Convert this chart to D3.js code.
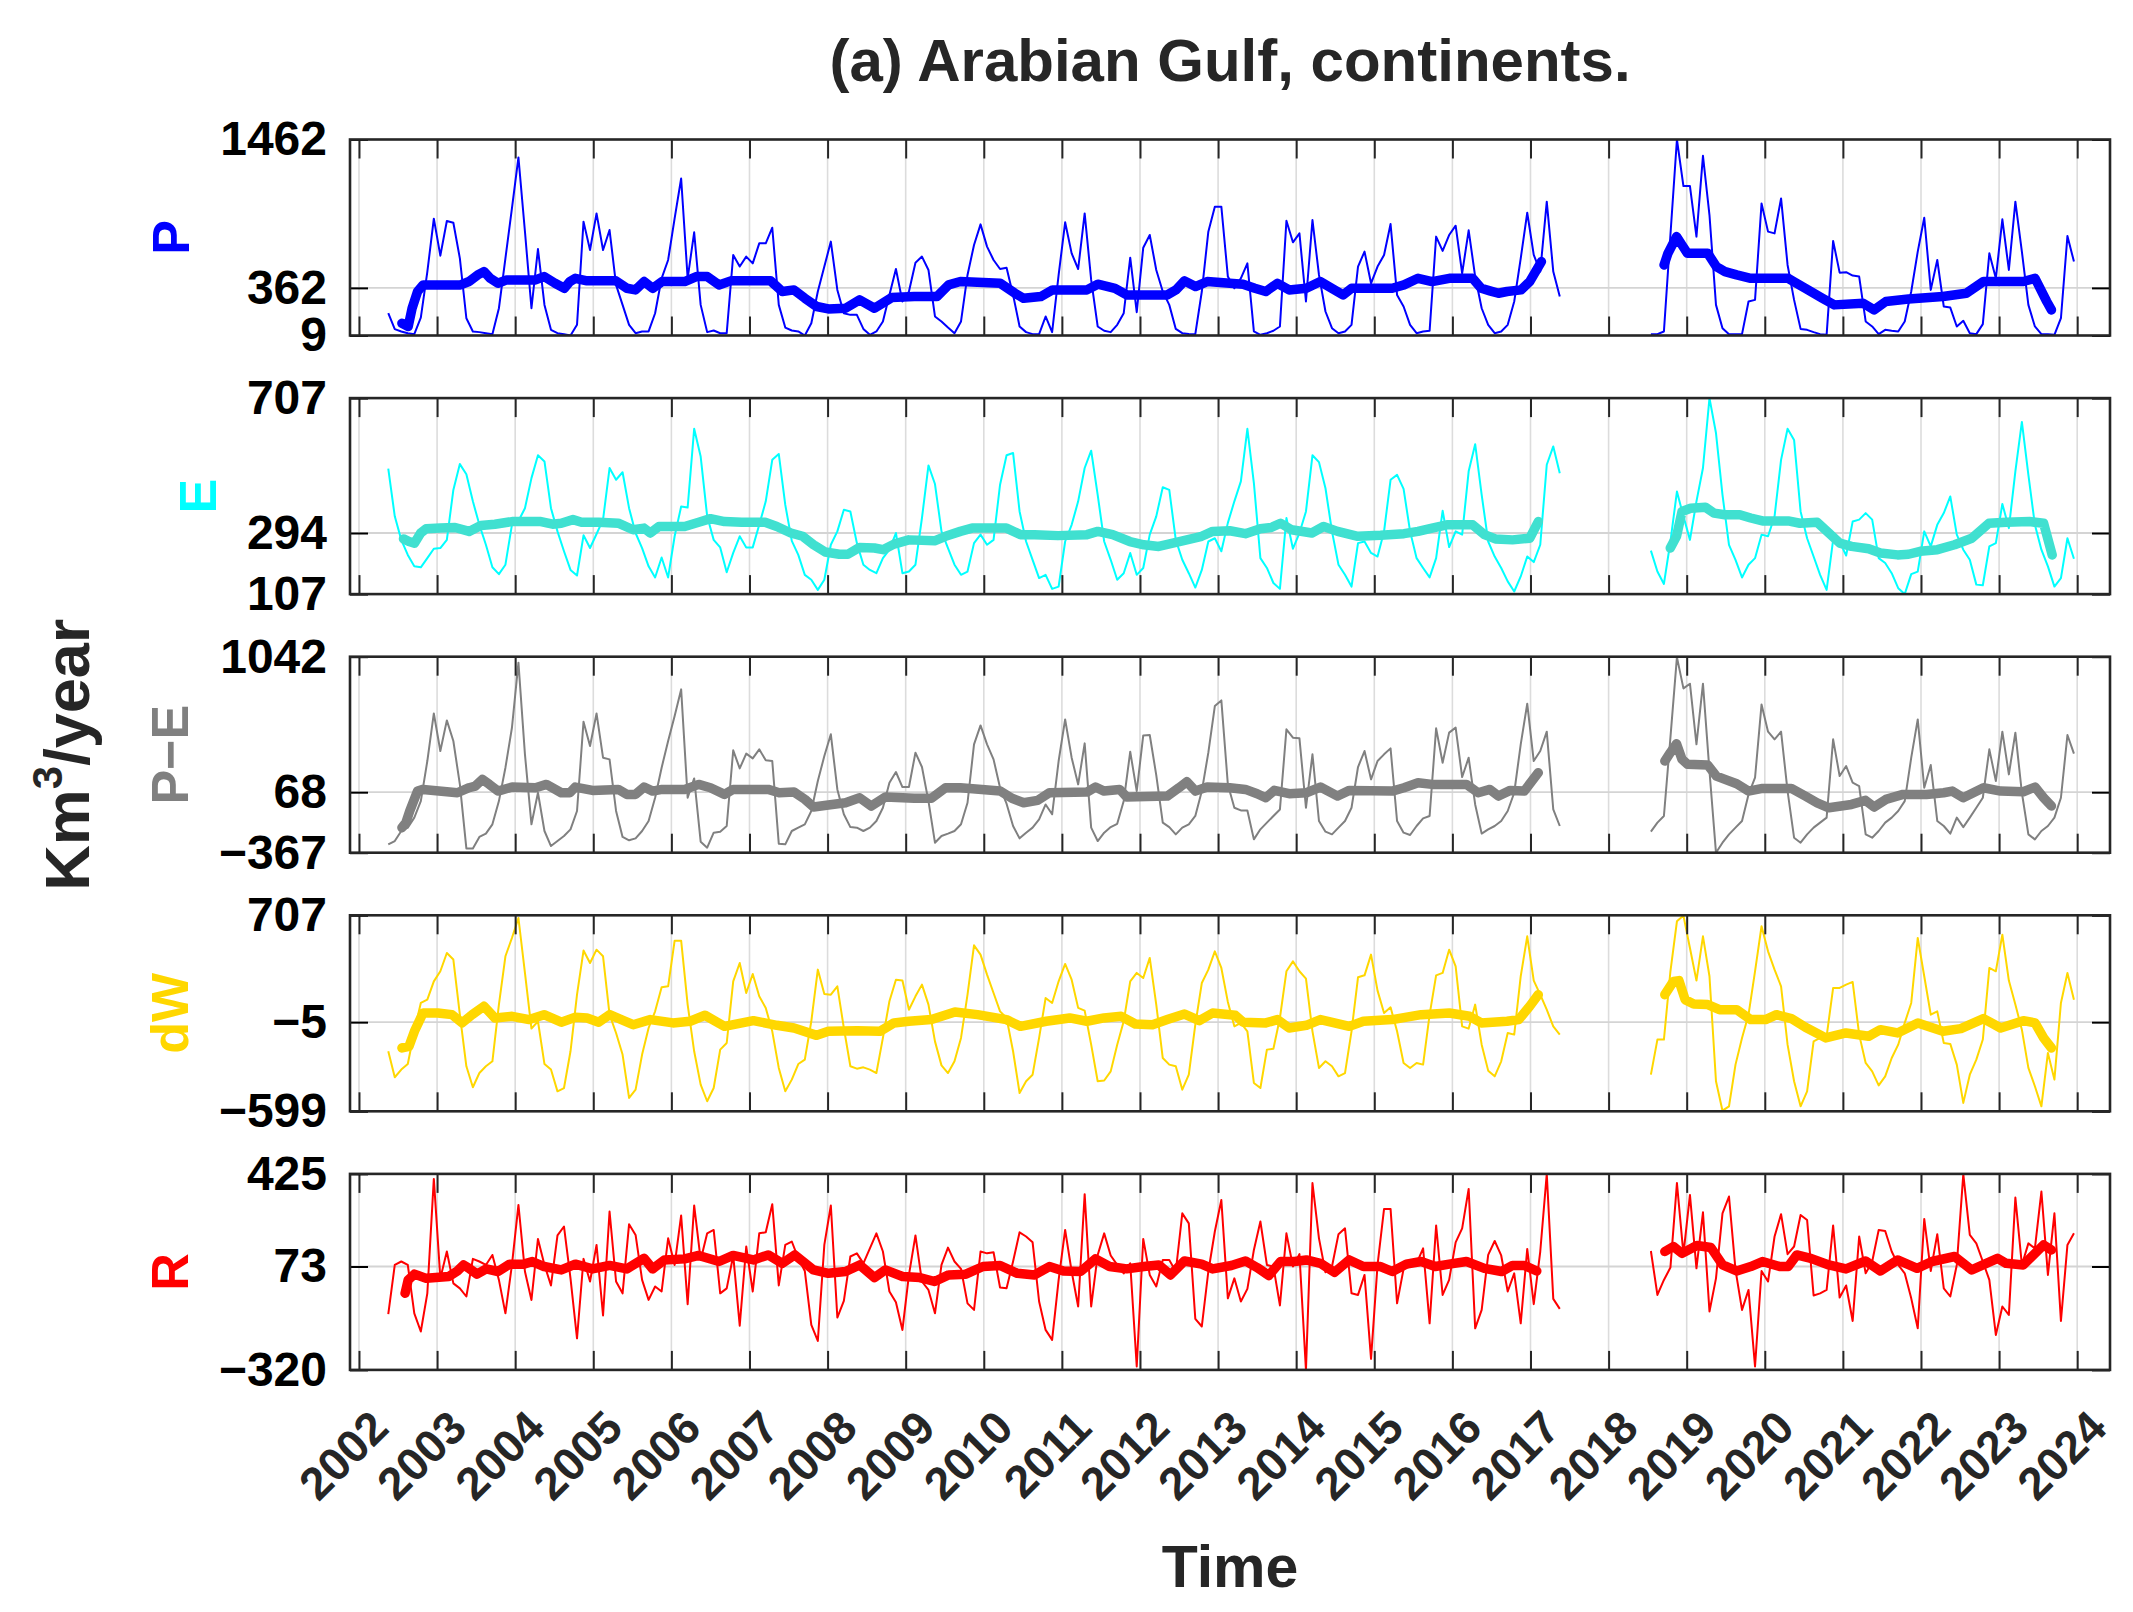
<!DOCTYPE html>
<html><head><meta charset="utf-8">
<script src="https://cdn.jsdelivr.net/npm/d3@7"></script>
<style>body{margin:0;background:#fff}svg{display:block}</style>
</head><body>
<svg id="c" width="2133" height="1612"></svg>
<script>
// ---------- data ----------
const years = [2002,2003,2004,2005,2006,2007,2008,2009,2010,2011,2012,2013,2014,2015,2016,2017,2018,2019,2020,2021,2022,2023,2024];
// monthly samples: GRACE May 2002 - May 2017, GRACE-FO Jul 2018 - Dec 2023
const seg1Months = d3.timeMonth.range(new Date(2002,4,1), new Date(2017,5,1));
const seg2Months = d3.timeMonth.range(new Date(2018,6,1), new Date(2024,0,1));

const pTicks  = [9, 362, 1462];
const eTicks  = [107, 294, 707];
const peTicks = [-367, 68, 1042];
const dwTicks = [-599, -5, 707];
const rTicks  = [-320, 73, 425];

const pSeg1 = [174,56,39,26,19,142,480,875,601,858,
845,581,137,39,34,26,19,211,581,951,
1329,780,211,650,236,51,26,19,9,88,
853,643,914,643,791,384,236,88,26,39,
39,174,433,569,877,1173,433,774,236,34,
46,26,26,606,520,594,544,692,692,808,
236,68,46,39,9,100,335,520,705,347,
174,162,162,58,14,39,113,310,502,261,
335,549,594,495,150,113,68,26,113,458,
680,833,668,569,502,512,310,76,34,19,
19,150,34,458,848,618,502,914,421,76,
44,34,88,174,586,182,660,754,495,335,
236,58,26,21,19,335,779,964,964,446,
359,433,544,39,14,26,44,76,860,700,
766,261,865,458,187,63,26,39,88,520,
631,396,520,606,835,310,224,88,26,39,
44,742,636,754,823,470,789,446,211,88,
26,39,88,261,581,919,606,483,1001,483,298];
const pSeg2 = [19,19,39,754,1462,1117,1117,742,1341,902,
236,63,19,19,19,261,273,988,779,766,
1025,532,273,58,51,34,19,14,710,475,
478,453,446,113,76,19,51,44,39,113,
335,631,882,347,569,224,216,76,118,26,
19,93,618,433,870,495,1001,631,236,76,
19,19,14,137,747,557];

const eSeg1 = [491,345,273,227,192,189,217,246,248,273,
426,505,474,391,319,258,189,168,197,319,
331,370,462,532,513,370,299,238,181,164,
287,248,291,335,493,457,480,370,294,248,
192,158,219,158,284,375,372,613,528,345,
273,250,174,233,284,250,250,319,391,518,
536,380,270,227,166,151,120,151,258,299,
365,360,263,197,181,171,217,243,294,171,
176,197,340,501,444,299,248,197,166,176,
263,289,258,273,442,532,539,360,268,212,
156,166,123,130,268,319,391,493,546,411,
268,212,151,171,233,166,187,289,345,434,
426,273,212,171,127,181,268,278,238,325,
391,452,613,447,217,187,141,123,340,246,
294,360,532,511,431,299,197,166,130,263,
268,233,222,299,457,472,429,299,217,187,
158,217,362,251,299,289,483,566,411,268,
222,187,146,115,161,222,205,258,503,559,477];
const eSeg2 = [240,176,138,268,421,345,273,391,493,707,
600,411,258,212,158,197,217,289,284,345,
518,613,579,360,278,222,166,120,273,268,
225,329,335,355,335,217,202,171,125,107,
168,176,299,253,319,355,406,289,243,212,
136,134,253,263,383,309,483,634,472,319,
243,192,130,156,278,215];

const peSeg1 = [-307,-283,-211,-187,-115,4,292,634,364,584,
436,124,-336,-336,-254,-230,-163,4,244,531,
999,340,-163,64,-211,-319,-283,-247,-199,-67,
575,400,634,316,304,-67,-254,-278,-264,-211,
-139,28,244,436,615,807,28,167,-288,-331,
-223,-216,-175,369,239,345,311,376,297,292,
-302,-307,-211,-187,-163,-67,148,328,484,88,
-91,-183,-187,-211,-187,-139,-44,136,213,105,
105,352,249,4,-295,-247,-230,-211,-163,-8,
412,548,412,304,100,-15,-175,-264,-223,-187,
-127,-20,-91,292,591,316,124,419,-187,-283,
-223,-183,-159,4,359,76,476,479,191,-151,
-183,-235,-187,-163,-103,76,352,687,728,124,
-44,-63,-63,-271,-199,-151,-103,-56,520,460,
455,-44,340,-139,-216,-235,-187,-139,-44,249,
364,160,292,340,383,-139,-223,-240,-175,-120,
-103,527,280,496,532,177,316,-20,-230,-199,
-175,-139,-67,64,412,704,292,364,503,-56,-175];
const peSeg2 = [-216,-151,-103,460,1039,814,848,412,848,220,
-367,-295,-235,-187,-139,52,172,699,503,448,
503,76,-259,-295,-235,-187,-151,-115,448,184,
256,136,112,-235,-259,-211,-151,-115,-67,4,
316,591,100,263,-139,-175,-230,-115,-183,-115,
-44,28,376,148,503,196,496,64,-235,-271,
-211,-175,-115,28,479,345];

const dwSeg1 = [-199,-372,-321,-284,-66,123,145,267,334,456,
412,45,-299,-439,-344,-299,-266,112,434,556,
689,323,-48,1,-284,-321,-466,-444,-199,178,
472,389,478,434,45,-77,-221,-510,-455,-221,
-44,67,227,234,538,538,112,-199,-421,-532,
-444,-188,-144,267,389,189,316,167,90,-66,
-310,-466,-388,-284,-255,1,345,183,178,234,
-44,-299,-315,-306,-321,-344,-110,134,278,272,
78,167,245,112,-133,-293,-344,-266,-110,178,
507,445,312,189,67,23,-199,-477,-399,-355,
-110,156,123,267,383,278,90,72,-155,-399,
-394,-333,-155,1,267,323,289,423,112,-244,
-288,-299,-455,-355,-22,256,345,467,356,130,
-33,-10,-66,-410,-444,-188,-182,23,334,400,
334,285,-66,-310,-266,-299,-366,-344,-66,294,
307,445,205,56,94,-66,-277,-310,-277,-288,
45,307,323,478,367,-33,-48,112,-155,-328,
-366,-266,-77,-88,301,567,272,178,78,-33,-88];
const dwSeg2 = [-355,-121,-121,334,667,705,489,272,567,301,
-399,-595,-566,-288,-110,45,334,634,467,345,
234,-155,-399,-566,-466,-133,-110,-99,223,223,
245,263,-88,-277,-333,-426,-366,-244,-155,-10,
123,556,301,45,67,-144,-150,-288,-543,-355,
-255,-121,356,334,578,272,112,-55,-310,-432,
-566,-210,-388,123,323,145];

const rSeg1 = [-108,79,92,79,-105,-174,-29,406,28,130,
9,-10,-41,102,92,79,117,22,-105,79,
307,54,-54,178,79,1,191,225,28,-200,
102,16,155,-113,282,16,-29,234,193,22,
-54,-3,-22,180,79,267,-70,305,98,199,
212,-29,-10,115,-152,149,-22,199,203,310,
1,155,168,104,56,-149,-210,155,305,-121,
-58,111,123,85,142,199,130,-22,-63,-168,
41,191,16,-16,-105,79,145,92,64,-67,
-92,130,123,127,-7,-10,92,203,187,165,
-60,-168,-206,22,212,54,-79,348,-79,117,
199,115,79,47,85,-307,178,41,-3,98,
98,54,275,237,-126,-155,54,206,326,-48,
28,-60,-12,136,244,79,73,-75,199,73,
120,-320,390,180,51,73,196,218,-29,-35,
41,-278,79,292,292,-67,64,73,85,142,
-143,229,-35,22,165,218,368,-162,-92,117,
170,115,-22,47,-143,140,-70,130,425,-50,-88];
const rSeg2 = [132,-35,22,69,390,120,345,66,279,-98,
28,275,339,60,-92,-16,-307,56,16,187,
272,120,149,269,250,-37,-29,-16,229,-45,
1,-134,187,47,92,212,208,130,79,47,
-48,-162,254,56,196,-10,-41,79,424,193,
161,92,22,-187,-79,-111,335,79,161,142,
358,41,275,-134,155,199];

// smoothed (thick) curves: [decimal year, value]
const pAvg1 = [[2002.55,100],[2002.63,76],[2002.68,211],[2002.75,335],[2002.82,384],[2003.30,384],[2003.41,409],[2003.52,458],[2003.60,483],[2003.68,433],[2003.78,396],[2003.89,421],[2004.26,421],[2004.37,446],[2004.51,396],[2004.63,359],[2004.70,409],[2004.77,433],[2004.92,414],[2005.29,414],[2005.43,359],[2005.54,347],[2005.65,409],[2005.76,359],[2005.88,409],[2006.17,409],[2006.32,446],[2006.46,446],[2006.61,384],[2006.76,414],[2007.27,414],[2007.42,335],[2007.57,347],[2007.71,285],[2007.86,224],[2008.01,206],[2008.23,211],[2008.41,273],[2008.60,211],[2008.82,290],[2009.11,298],[2009.40,298],[2009.55,384],[2009.70,409],[2010.21,396],[2010.40,322],[2010.51,285],[2010.73,298],[2010.88,347],[2011.32,347],[2011.46,389],[2011.68,359],[2011.83,310],[2012.35,310],[2012.46,347],[2012.57,414],[2012.71,372],[2012.86,409],[2013.15,396],[2013.32,389],[2013.47,359],[2013.61,335],[2013.76,396],[2013.91,347],[2014.13,359],[2014.31,409],[2014.49,347],[2014.60,310],[2014.71,359],[2015.23,359],[2015.38,384],[2015.56,433],[2015.74,409],[2015.96,433],[2016.26,433],[2016.37,359],[2016.48,340],[2016.59,322],[2016.70,335],[2016.88,347],[2016.99,409],[2017.14,557]];
const pAvg2 = [[2018.71,532],[2018.76,618],[2018.87,742],[2018.94,680],[2019.01,618],[2019.27,618],[2019.38,520],[2019.49,483],[2019.64,458],[2019.82,433],[2020.30,433],[2020.37,409],[2020.52,359],[2020.74,285],[2020.89,236],[2021.26,248],[2021.40,199],[2021.55,261],[2021.84,280],[2022.28,298],[2022.58,322],[2022.80,409],[2023.31,409],[2023.46,433],[2023.61,261],[2023.67,199]];
const eAvg1 = [[2002.57,276],[2002.64,268],[2002.71,263],[2002.79,294],[2002.86,307],[2003.04,309],[2003.23,311],[2003.41,299],[2003.56,317],[2003.74,321],[2003.96,329],[2004.33,329],[2004.48,321],[2004.59,324],[2004.74,335],[2004.85,327],[2005.07,327],[2005.32,324],[2005.51,304],[2005.65,309],[2005.73,294],[2005.84,314],[2006.17,314],[2006.35,327],[2006.50,338],[2006.68,329],[2006.90,327],[2007.20,327],[2007.35,314],[2007.53,294],[2007.68,284],[2007.82,258],[2007.97,236],[2008.15,229],[2008.26,229],[2008.41,250],[2008.60,248],[2008.71,243],[2008.85,260],[2009.04,273],[2009.37,270],[2009.51,284],[2009.70,299],[2009.85,309],[2010.29,309],[2010.47,289],[2010.65,289],[2010.95,286],[2011.32,289],[2011.46,299],[2011.65,289],[2011.87,268],[2012.05,258],[2012.24,253],[2012.42,263],[2012.60,273],[2012.79,284],[2012.93,299],[2013.15,301],[2013.35,292],[2013.54,307],[2013.68,311],[2013.80,324],[2013.94,304],[2014.20,294],[2014.35,314],[2014.53,299],[2014.79,284],[2015.08,287],[2015.38,292],[2015.56,299],[2015.74,309],[2015.93,319],[2016.26,319],[2016.41,289],[2016.55,276],[2016.77,273],[2016.99,278],[2017.10,329]];
const eAvg2 = [[2018.79,248],[2018.87,284],[2018.94,360],[2019.05,370],[2019.24,373],[2019.35,355],[2019.49,350],[2019.68,350],[2019.82,340],[2019.97,331],[2020.30,331],[2020.45,324],[2020.67,327],[2020.82,294],[2020.96,263],[2021.11,253],[2021.33,246],[2021.48,233],[2021.70,227],[2021.84,229],[2021.99,238],[2022.21,243],[2022.43,258],[2022.65,278],[2022.87,324],[2023.09,327],[2023.39,329],[2023.57,324],[2023.68,227]];
const peAvg1 = [[2002.55,-187],[2002.60,-151],[2002.65,-67],[2002.75,76],[2002.82,88],[2003.26,64],[2003.41,100],[2003.49,112],[2003.58,160],[2003.67,124],[2003.78,76],[2003.96,105],[2004.26,100],[2004.40,124],[2004.59,64],[2004.70,64],[2004.77,105],[2004.99,81],[2005.32,88],[2005.43,52],[2005.54,52],[2005.65,105],[2005.76,76],[2005.88,88],[2006.17,88],[2006.35,124],[2006.50,100],[2006.68,52],[2006.79,88],[2007.24,88],[2007.38,64],[2007.57,69],[2007.71,16],[2007.82,-39],[2008.01,-24],[2008.23,-8],[2008.41,28],[2008.56,-32],[2008.74,33],[2009.11,24],[2009.33,24],[2009.51,100],[2009.70,100],[2010.21,76],[2010.36,24],[2010.51,-8],[2010.69,9],[2010.84,64],[2011.32,69],[2011.43,105],[2011.54,76],[2011.74,88],[2011.83,33],[2012.35,40],[2012.50,100],[2012.60,143],[2012.71,76],[2012.86,105],[2013.15,100],[2013.35,88],[2013.50,57],[2013.61,28],[2013.72,81],[2013.91,57],[2014.13,64],[2014.31,105],[2014.53,40],[2014.68,81],[2015.23,76],[2015.38,100],[2015.56,136],[2015.74,124],[2016.18,124],[2016.33,64],[2016.48,88],[2016.59,40],[2016.74,81],[2016.92,76],[2017.10,208]];
const peAvg2 = [[2018.72,292],[2018.79,352],[2018.87,416],[2018.94,304],[2019.01,268],[2019.27,263],[2019.38,184],[2019.49,160],[2019.64,129],[2019.79,76],[2019.97,95],[2020.34,95],[2020.52,40],[2020.67,-8],[2020.82,-44],[2021.11,-20],[2021.29,9],[2021.40,-39],[2021.55,16],[2021.77,52],[2022.07,52],[2022.29,64],[2022.40,76],[2022.54,28],[2022.80,100],[2023.02,76],[2023.31,71],[2023.46,105],[2023.57,28],[2023.67,-32]];
const dwAvg1 = [[2002.55,-177],[2002.64,-166],[2002.71,-66],[2002.82,56],[2003.01,56],[2003.19,45],[2003.32,-10],[2003.45,45],[2003.60,101],[2003.74,23],[2003.96,34],[2004.18,12],[2004.37,45],[2004.59,-5],[2004.77,27],[2004.92,23],[2005.07,-5],[2005.21,45],[2005.51,-22],[2005.73,12],[2006.02,-10],[2006.24,1],[2006.43,41],[2006.68,-33],[2007.05,5],[2007.35,-26],[2007.57,-44],[2007.86,-93],[2008.01,-66],[2008.38,-62],[2008.67,-66],[2008.85,-10],[2009.04,1],[2009.33,12],[2009.63,63],[2009.92,45],[2010.29,12],[2010.47,-33],[2010.80,1],[2011.10,23],[2011.32,1],[2011.54,23],[2011.76,34],[2011.94,-17],[2012.16,-22],[2012.35,12],[2012.57,49],[2012.76,5],[2012.93,56],[2013.22,41],[2013.32,-5],[2013.61,-10],[2013.76,12],[2013.91,-44],[2014.13,-26],[2014.31,12],[2014.68,-33],[2014.86,1],[2015.23,12],[2015.60,45],[2015.96,56],[2016.22,34],[2016.37,-10],[2016.70,1],[2016.85,12],[2016.99,101],[2017.10,178]];
const dwAvg2 = [[2018.72,178],[2018.83,267],[2018.90,272],[2018.98,145],[2019.09,116],[2019.27,112],[2019.42,78],[2019.64,78],[2019.82,12],[2020.01,12],[2020.15,45],[2020.34,19],[2020.52,-39],[2020.78,-110],[2021.04,-77],[2021.33,-99],[2021.48,-55],[2021.70,-77],[2021.96,-10],[2022.28,-66],[2022.51,-48],[2022.80,19],[2023.02,-44],[2023.31,5],[2023.46,-10],[2023.57,-110],[2023.67,-177]];
const rAvg1 = [[2002.59,-29],[2002.63,22],[2002.71,44],[2002.86,28],[2003.15,35],[2003.26,56],[2003.34,79],[2003.41,66],[2003.51,44],[2003.63,64],[2003.78,54],[2003.93,82],[2004.11,82],[2004.22,92],[2004.37,73],[2004.59,60],[2004.77,82],[2004.99,64],[2005.21,77],[2005.43,64],[2005.65,104],[2005.76,64],[2005.91,98],[2006.17,102],[2006.35,115],[2006.61,92],[2006.79,115],[2007.05,98],[2007.24,117],[2007.42,85],[2007.58,117],[2007.82,60],[2008.01,47],[2008.23,54],[2008.41,79],[2008.60,31],[2008.74,60],[2008.96,35],[2009.18,31],[2009.37,16],[2009.55,41],[2009.77,44],[2009.99,73],[2010.21,77],[2010.43,47],[2010.65,41],[2010.84,73],[2011.02,56],[2011.24,54],[2011.43,102],[2011.61,73],[2011.83,64],[2012.05,73],[2012.24,79],[2012.39,41],[2012.57,94],[2012.79,82],[2012.93,64],[2013.17,77],[2013.35,94],[2013.50,69],[2013.65,39],[2013.80,92],[2013.98,92],[2014.13,98],[2014.31,85],[2014.49,51],[2014.68,98],[2014.86,73],[2015.08,73],[2015.23,54],[2015.41,82],[2015.60,92],[2015.78,73],[2015.96,82],[2016.18,92],[2016.41,66],[2016.63,54],[2016.77,77],[2016.92,77],[2017.08,56]];
const rAvg2 = [[2018.72,130],[2018.83,149],[2018.94,123],[2019.13,153],[2019.31,145],[2019.46,79],[2019.64,56],[2019.82,73],[2019.97,92],[2020.19,73],[2020.30,73],[2020.41,117],[2020.59,104],[2020.82,79],[2021.04,64],[2021.29,94],[2021.48,56],[2021.70,98],[2021.95,66],[2022.14,92],[2022.43,111],[2022.65,60],[2022.98,104],[2023.09,85],[2023.31,79],[2023.46,123],[2023.57,155],[2023.67,136]];

const panelLabels = ["P", "E", "P\u2212E", "dW", "R"];
const thinColors  = ["#0000ff", "#00ffff", "#808080", "#ffd700", "#ff0000"];
const thickColors = ["#0000ff", "#40e0d0", "#808080", "#ffd700", "#ff0000"];

// ---------- layout ----------
const FONT = '"Liberation Sans", Arial, Helvetica, sans-serif';
const L = 350, R = 2110, TOP0 = 139.5, PH = 196, STEP = 258.6;
const x = d3.scaleLinear().domain([2001.885, 2024.42]).range([L, R]);
const svg = d3.select("#c").style("font-family", FONT);
const decYear = d => d.getFullYear() + (d.getMonth() + 0.5) / 12;

const panels = [
  {ticks: pTicks,  s1: pSeg1,  s2: pSeg2,  a1: pAvg1,  a2: pAvg2},
  {ticks: eTicks,  s1: eSeg1,  s2: eSeg2,  a1: eAvg1,  a2: eAvg2},
  {ticks: peTicks, s1: peSeg1, s2: peSeg2, a1: peAvg1, a2: peAvg2},
  {ticks: dwTicks, s1: dwSeg1, s2: dwSeg2, a1: dwAvg1, a2: dwAvg2},
  {ticks: rTicks,  s1: rSeg1,  s2: rSeg2,  a1: rAvg1,  a2: rAvg2}
];

const defs = svg.append("defs");

panels.forEach((p, i) => {
  const top = TOP0 + i * STEP, bot = top + PH;
  const y = d3.scaleLinear().domain([p.ticks[0], p.ticks[2]]).range([bot, top]);
  const g = svg.append("g");
  const cid = "clip" + i;
  defs.append("clipPath").attr("id", cid).append("rect")
    .attr("x", L).attr("y", top).attr("width", R - L).attr("height", PH);

  // grid
  g.append("g").selectAll("line").data(years).join("line")
    .attr("x1", d => x(d)).attr("x2", d => x(d)).attr("y1", top).attr("y2", bot)
    .attr("stroke", "#dcdcdc").attr("stroke-width", 1.6);
  g.append("line").attr("x1", L).attr("x2", R)
    .attr("y1", y(p.ticks[1])).attr("y2", y(p.ticks[1]))
    .attr("stroke", "#d4d4d4").attr("stroke-width", 1.8);

  // data
  const area = g.append("g").attr("clip-path", `url(#${cid})`);
  const line = d3.line().x(d => x(d[0])).y(d => y(d[1]));
  const thin1 = seg1Months.map((m, k) => [decYear(m), p.s1[k]]).filter(d => d[1] != null);
  const thin2 = seg2Months.map((m, k) => [decYear(m), p.s2[k]]).filter(d => d[1] != null);
  [thin1, thin2].forEach(pts => area.append("path").attr("d", line(pts))
    .attr("fill", "none").attr("stroke", thinColors[i]).attr("stroke-width", 2)
    .attr("stroke-linejoin", "round"));
  [p.a1, p.a2].forEach(pts => area.append("path").attr("d", line(pts))
    .attr("fill", "none").attr("stroke", thickColors[i]).attr("stroke-width", 9.5)
    .attr("stroke-linejoin", "round").attr("stroke-linecap", "round"));

  // axes
  const fmt = d3.format("d");
  const xb = g.append("g").attr("transform", `translate(0,${bot})`).attr("color", "#262626")
    .call(d3.axisBottom(x).tickValues(years).tickSize(-19).tickPadding(0)
      .tickFormat(i === 4 ? fmt : () => ""));
  const xt = g.append("g").attr("transform", `translate(0,${top})`).attr("color", "#262626")
    .call(d3.axisTop(x).tickValues(years).tickSize(-19).tickFormat(() => ""));
  const yl = g.append("g").attr("transform", `translate(${L},0)`).attr("color", "#000")
    .call(d3.axisLeft(y).tickValues(p.ticks).tickSize(-18).tickPadding(23).tickFormat(fmt));
  const yr = g.append("g").attr("transform", `translate(${R},0)`).attr("color", "#000")
    .call(d3.axisRight(y).tickValues(p.ticks).tickSize(-18).tickFormat(() => ""));
  [xb, xt, yl, yr].forEach(a => { a.select(".domain").remove(); a.selectAll(".tick line").attr("stroke-width", 2); });

  yl.selectAll("text").attr("font-size", 48).attr("font-weight", "bold")
    .attr("font-family", FONT).attr("fill", "#000");

  if (i === 4) {
    xb.selectAll(".tick text").attr("x", 0).attr("y", 0).attr("dy", "0.35em")
      .attr("text-anchor", "end").attr("transform", "translate(20,49) rotate(-45)")
      .attr("font-size", 46).attr("font-weight", "bold").attr("font-family", FONT)
      .attr("fill", "#262626");
  }

  // box
  g.append("rect").attr("x", L).attr("y", top).attr("width", R - L).attr("height", PH)
    .attr("fill", "none").attr("stroke", "#262626").attr("stroke-width", 2.6);

  // panel label placed left of the widest tick label
  let minLeft = Infinity;
  yl.selectAll("text").each(function () { minLeft = Math.min(minLeft, this.getBoundingClientRect().left); });
  svg.append("text").text(panelLabels[i])
    .attr("transform", `translate(${minLeft - 31},${(top + bot) / 2}) rotate(-90)`)
    .attr("text-anchor", "middle").attr("font-size", 52).attr("font-weight", "bold")
    .attr("fill", thinColors[i]);
});

// title, axis labels
svg.append("text").text("(a) Arabian Gulf, continents.")
  .attr("x", (L + R) / 2).attr("y", 81).attr("text-anchor", "middle")
  .attr("font-size", 60).attr("font-weight", "bold").attr("fill", "#262626");
svg.append("text").text("Time")
  .attr("x", (L + R) / 2).attr("y", 1587).attr("text-anchor", "middle")
  .attr("font-size", 59).attr("font-weight", "bold").attr("fill", "#262626");
const yt = svg.append("text")
  .attr("transform", `translate(89,${TOP0 + 2 * STEP + PH / 2}) rotate(-90)`)
  .attr("text-anchor", "middle").attr("font-size", 63).attr("font-weight", "bold").attr("fill", "#262626");
yt.append("tspan").text("Km");
yt.append("tspan").text("3").attr("font-size", 42).attr("dy", -27);
yt.append("tspan").text("/year").attr("dy", 27);
</script>
</body></html>
